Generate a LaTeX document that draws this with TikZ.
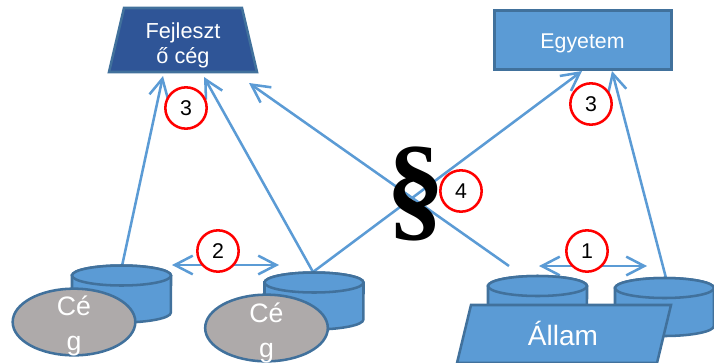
\documentclass[tikz,border=0pt]{standalone}
\usepackage{fontspec}
\setmainfont{Liberation Sans}
\newfontfamily\serifbold{Liberation Serif}[BoldFont={Liberation Serif Bold}]
\usetikzlibrary{arrows.meta}
\usetikzlibrary{shapes.geometric}
\definecolor{fillblue}{HTML}{5B9BD5}
\definecolor{edgeblue}{HTML}{41719C}
\definecolor{darkblue}{HTML}{2F5597}
\definecolor{stone}{HTML}{AEAAAA}
\tikzset{
  link/.style={draw=fillblue,line width=1.9pt,-{Straight Barb[length=13.5pt,width=14pt]}},
  twoway/.style={draw=fillblue,line width=1.9pt,{Straight Barb[length=13.5pt,width=14pt]}-{Straight Barb[length=13.5pt,width=14pt]}},
  drumline/.style={draw=edgeblue,line width=1.9pt,fill=fillblue},
  firm/.style={ellipse,draw=edgeblue,line width=1.9pt,fill=stone,minimum width=92pt,minimum height=50pt,inner sep=0pt},
  firmtext/.style={text=white,inner sep=0pt,align=center,font=\fontsize{20}{26}\selectfont},
  badge/.style={circle,draw=red,line width=1.9pt,fill=white,minimum size=31pt,inner sep=0pt,text=black,font=\fontsize{16}{18}\selectfont},
  caption/.style={text=white,align=center,inner sep=0pt}
}
% #1 name, #2 centre x, #3 cap centre y, #4 body height (all in pixels)
\newcommand{\drumat}[4]{%
  \begin{scope}[shift={(#2,#3)}]
    \draw[drumline] (-49.5,0) -- (-49.5,#4) arc[start angle=180,end angle=360,x radius=37.1pt,y radius=7.5pt] -- (49.5,0) arc[start angle=0,end angle=180,x radius=37.1pt,y radius=7.5pt] -- cycle;
    \draw[drumline] (0,0) ellipse[x radius=37.1pt,y radius=7.5pt];
    \coordinate (#1) at (0,-10);
  \end{scope}}
\begin{document}
\begin{tikzpicture}[x=0.75pt,y=-0.75pt]
\useasboundingbox (0,0) rectangle (714,362);
% connector ends
\coordinate (tipA) at (163,76);
\coordinate (tipB) at (204,77);
\coordinate (tipC) at (249,83);
\coordinate (tipD) at (582,71);
\coordinate (tipE) at (612,71);
\coordinate (startC) at (509,266);
\coordinate (pairAl) at (172,265);
\coordinate (pairAr) at (279,265);
\coordinate (pairBl) at (539,266);
\coordinate (pairBr) at (647,266);
% connector starts at the cylinder tops
\coordinate (topA) at (122,266);
\coordinate (topB) at (313,272);
\coordinate (topE) at (666,278);
% connectors
\draw[link] (topA) -- (tipA);
\draw[link] (topB) -- (tipB);
\draw[link] (startC) -- (tipC);
\draw[link] (topB) -- (tipD);
\draw[link] (topE) -- (tipE);
\draw[twoway] (pairAl) -- (pairAr);
\draw[twoway] (pairBl) -- (pairBr);
% top boxes
\draw[draw=edgeblue,line width=1.9pt,fill=darkblue] (124,8) -- (242,8) -- (257,72) -- (109,72) -- cycle;
\node[caption,font=\fontsize{16.3}{19}\selectfont] (dev) at (183,45.5) {Fejleszt\\ő cég};
\node[rectangle,draw=edgeblue,line width=1.9pt,fill=fillblue,minimum width=133pt,minimum height=44pt,inner sep=0pt] (uni) at (583,40) {};
\node[caption,font=\fontsize{16}{19}\selectfont] (unitext) at (582.5,43) {Egyetem};
% cylinders
\drumat{cylA}{121.5}{275.5}{37}
\drumat{cylB}{314}{282.5}{37}
\drumat{cylC}{537.5}{286}{37}
\drumat{cylD}{664.5}{288}{38}
% firms
\node[firm] (firmA) at (74,322) {};
\node[firmtext] (firmAtext) at (74,326) {Cé\\g};
\node[firm] (firmB) at (266.5,328) {};
\node[firmtext] (firmBtext) at (266.5,333) {Cé\\g};
% state
\draw[draw=edgeblue,line width=1.9pt,fill=fillblue] (471,305) -- (671,305) -- (657,363) -- (457,363) -- cycle;
\node[caption,font=\fontsize{21}{25}\selectfont] (state) at (563,333) {Állam};
% paragraph sign
\node[inner sep=0pt,text=black,font=\serifbold\bfseries\fontsize{88}{100}\selectfont] (para) at (416,194) {§};
% badges
\node[badge] (b1) at (587,251) {1};
\node[badge] (b2) at (218,251) {2};
\node[badge] (b3a) at (186,108) {3};
\node[badge] (b3b) at (591,104) {3};
\node[badge] (b4) at (461,191) {4};
\end{tikzpicture}
\end{document}
